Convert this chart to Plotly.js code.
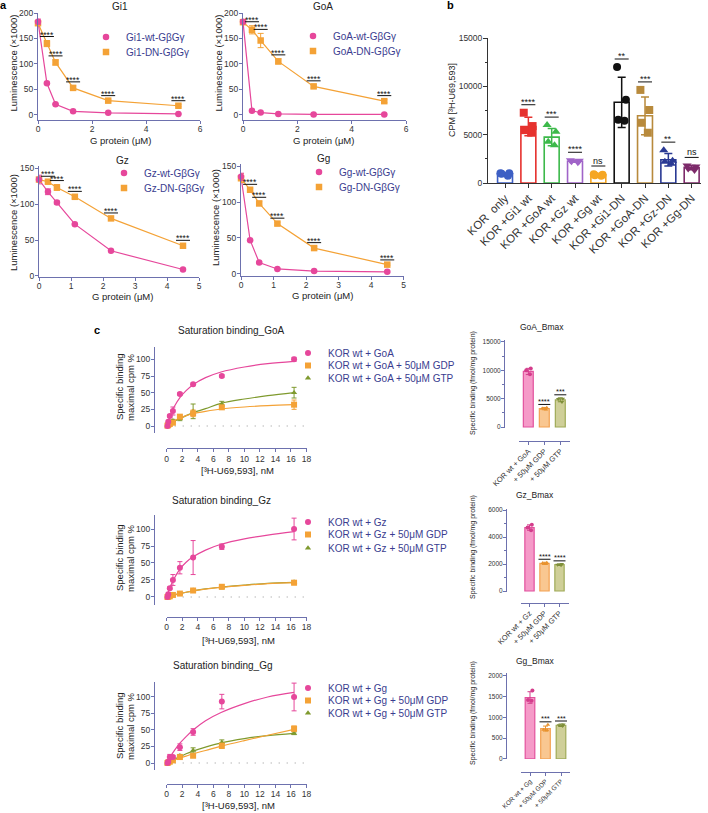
<!DOCTYPE html>
<html><head><meta charset="utf-8">
<script src="https://cdn.plot.ly/plotly-3.0.1.min.js"></script>
<style>html,body{margin:0;padding:0;background:#fff}#chart{width:708px;height:813px}</style>
</head><body><div id="chart"></div>
<script>
// ================= DATA =================
// ---- Panel a: luminescence vs G protein ----
const aXGiGo = [0, 0.33, 0.65, 1.3, 2.6, 5.2];
const aXGzGg = [0, 0.28, 0.56, 1.12, 2.25, 4.5];
const gi1Wt = [183, 62, 21, 7, 4, 2];
const gi1WtErr = [5, 2, 1, 1, 1, 1];
const gi1Dn = [180, 140, 103, 53, 28, 18];
const gi1DnErr = [4, 6, 5, 4, 2, 2];
const goaWt = [183, 8, 4.5, 2, 1, 1];
const goaWtErr = [4, 1, 1, 1, 1, 1];
const goaDn = [182, 167, 146, 105, 56, 27];
const goaDnErr = [4, 8, 14, 5, 3, 3];
const gzWt = [134, 117, 102, 72, 35, 9];
const gzWtErr = [6, 4, 2, 1, 1, 1];
const gzDn = [134, 131, 123, 110, 80, 42];
const gzDnErr = [3, 2, 4, 2, 2, 2];
const ggWt = [135, 47, 16, 7, 4, 3];
const ggWtErr = [5, 1, 1, 1, 1, 1];
const ggDn = [133, 117, 98, 70, 36, 13];
const ggDnErr = [6, 2, 3, 2, 2, 1];
const aSig = ['', '****', '****', '****', '****', '****'];

// ---- Panel b: CPM bars ----
const bCats = ['KOR  only', 'KOR +Gi1 wt', 'KOR +GoA wt', 'KOR +Gz wt', 'KOR +Gg wt',
               'KOR +Gi1-DN', 'KOR +GoA-DN', 'KOR +Gz-DN', 'KOR +Gg-DN'];
const bMeans = [950, 5850, 4750, 2250, 850, 8350, 6950, 2400, 1600];
const bSD = [120, 950, 900, 100, 80, 2600, 1950, 650, 220];
const bPoints = [
  [750, 1000, 1000, 950],
  [7270, 5890, 5470, 5200],
  [5990, 5300, 4260, 3910],
  [2350, 2250, 2150, 2300],
  [850, 800, 900, 750],
  [12000, 8600, 6440, 6550],
  [9630, 7550, 6230, 5200],
  [3400, 2300, 2200, 2000],
  [1800, 1700, 1500, 1350]
];
const bSig = ['', '****', '***', '****', 'ns', '**', '***', '**', 'ns'];

// ---- Panel c: saturation binding ----
const satX = [0.1, 0.2, 0.4, 0.8, 1.7, 3.4, 7.1, 16.4];
const fitX = [0, 0.5, 1, 1.7, 2.5, 3.4, 5, 7, 10, 13, 16.4];
const goaSatWt = [0, 6.5, 15, 22.5, 48, 62.5, 75, 100];
const goaSatWtErr = [1, 2, 2, 6, 2, 2, 2, 3];
const goaSatGdp = [0.5, 1.5, 3, 5, 14, 19, 28, 32];
const goaSatGdpErr = [0.5, 1, 1, 1, 2, 5, 2, 7];
const goaSatGtp = [0.3, 1, 3, 8, 11, 22, 33, 50];
const goaSatGtpErr = [0.5, 1, 1, 2, 3, 11, 4, 8];
const goaFitWt = [0, 17, 29.5, 42.5, 53, 62, 72.5, 81, 88.5, 93.5, 97];
const goaFitGdp = [0, 4, 8, 12, 15.5, 18.5, 22, 25.5, 28.5, 30.5, 32];
const goaFitGtp = [0, 3.5, 7, 11, 15.5, 20, 26, 34, 40.5, 45.5, 50];

const gzSatWt = [0, 4, 13, 25, 43, 58, 74, 100];
const gzSatWtErr = [1, 2, 2, 8, 9, 25, 4, 16];
const gzSatGdp = [0, 0.5, 1, 3, 5, 9.5, 15, 21];
const gzSatGdpErr = [0.5, 0.5, 0.5, 1, 1, 2, 3, 3];
const gzSatGtp = [0, 0.5, 1, 3, 5, 10, 14, 22];
const gzSatGtpErr = [0.5, 0.5, 0.5, 1, 1, 1, 2, 2];
const gzFitWt = [0, 16, 28, 41, 51, 59, 69, 77.5, 85.5, 91, 96];
const gzFitGdp = [0, 1.5, 3, 5, 7, 9, 11.5, 14, 17, 19.5, 21];
const gzFitGtp = [0, 1.5, 3, 5, 7, 9, 12, 14.5, 17.5, 20, 21.5];

const ggSatWt = [0, 2, 9, 9, 24, 47, 93, 100];
const ggSatWtErr = [1, 2, 4, 2, 5, 5, 11, 21];
const ggSatGdp = [0, 1, 2, 4, 9, 11, 26, 52];
const ggSatGdpErr = [0.5, 0.5, 1, 1, 3, 2, 4, 4];
const ggSatGtp = [0, 1, 3, 5, 11, 19, 31, 45];
const ggSatGtpErr = [0.5, 0.5, 1, 1, 2, 4, 4, 2];
const ggFitWt = [0, 10, 19, 30, 40, 50, 64, 76.5, 90, 100, 107];
const ggFitGdp = [0, 2.3, 4.5, 7.5, 10.5, 14, 19, 25.5, 34, 42, 51];
const ggFitGtp = [0, 3, 6, 9.5, 14, 18, 24, 30.5, 37, 41.5, 45];

// ---- Panel c: Bmax bars ----
const goaBmaxCats = ['KOR wt + GoA', '+ 50μM GDP', '+ 50μM GTP'];
const goaBmax = [9800, 3250, 4800];
const goaBmaxSD = [550, 200, 350];
const goaBmaxPts = [[10300, 9300, 10000], [3400, 3100, 3250], [5000, 4400, 4950]];
const goaBmaxSig = ['', '****', '***'];
const gzBmaxCats = ['KOR wt + Gz', '+ 50μM GDP', '+ 50μM GTP'];
const gzBmax = [4700, 2050, 1950];
const gzBmaxSD = [200, 80, 60];
const gzBmaxPts = [[4900, 4500, 4700], [2100, 2000, 2050], [2000, 1900, 1950]];
const gzBmaxSig = ['', '****', '****'];
const ggBmaxCats = ['KOR wt + Gg', '+ 50μM GDP', '+ 50μM GTP'];
const ggBmax = [1480, 730, 810];
const ggBmaxSD = [140, 60, 30];
const ggBmaxPts = [[1650, 1400, 1420], [820, 700, 690], [830, 790, 810]];
const ggBmaxSig = ['', '***', '***'];

// ================= STYLE / LAYOUT =================
const W = 708, H = 813;
const PX = v => v / W;
const PY = v => 1 - v / H;
const FONT = 'Arial, "Liberation Sans", Helvetica, sans-serif';
const PINK = '#e6479b', ORANGE = '#f4a236', OLIVE = '#7f9a2e';
const AXBLUE = '#6d71ae', LEGTXT = '#3a3d8f';

const traces = [], annotations = [], shapes = [];
const layout = {
  width: W, height: H, margin: {l: 0, r: 0, t: 0, b: 0},
  paper_bgcolor: '#fff', plot_bgcolor: 'rgba(0,0,0,0)',
  font: {family: FONT, size: 10, color: '#333'},
  showlegend: true, barmode: 'overlay', boxmode: 'overlay',
  annotations, shapes
};
const ak = (l, n) => n === 1 ? l + 'axis' : l + 'axis' + n;
const ar = (l, n) => n === 1 ? l : l + n;

function addText(text, x, y, o) {
  annotations.push(Object.assign({
    text, x: PX(x), y: PY(y), xref: 'paper', yref: 'paper', showarrow: false,
    xanchor: 'center', yanchor: 'middle', font: {family: FONT, size: 10, color: '#222'}
  }, o || {}));
}
function addSig(text, xr, yr, xv, yv, size, yshift, lineShift, halfW) {
  annotations.push({text, xref: xr, yref: yr, x: xv, y: yv, yshift, showarrow: false,
    xanchor: 'center', yanchor: 'middle', font: {family: FONT, size, color: '#111'}});
  shapes.push({type: 'line', xref: xr, yref: yr, xsizemode: 'pixel', xanchor: xv, x0: -halfW, x1: halfW,
    ysizemode: 'pixel', yanchor: yv, y0: lineShift, y1: lineShift, line: {color: '#111', width: 1}});
}
let legCount = 0;
// one legend per entry, placed by the pixel centre of its symbol
function newLegend(symX, yc, size) {
  legCount++;
  const id = legCount === 1 ? 'legend' : 'legend' + legCount;
  layout[id] = {x: PX(symX - 20), y: PY(yc), xanchor: 'left', yanchor: 'middle',
    bgcolor: 'rgba(0,0,0,0)', borderwidth: 0, itemwidth: 30,
    font: {family: FONT, size, color: LEGTXT}};
  return id;
}
function axisBase(color, fsize) {
  return {showline: true, linecolor: color, linewidth: 1, ticks: 'outside', ticklen: 3,
    tickcolor: color, tickwidth: 1, showgrid: false, zeroline: false, ticklabelstandoff: -1,
    exponentformat: 'none', separatethousands: false,
    tickfont: {family: FONT, size: fsize, color: '#333'}};
}

// ---------- Panel a ----------
const aConf = [
  {n: 1, name: 'Gi1', x: aXGiGo, wt: gi1Wt, wtE: gi1WtErr, dn: gi1Dn, dnE: gi1DnErr,
   xd: [38, 200], yd: [120, 13], xr: [0, 6], yr: [-10, 200], xdt: 2,
   tt: [120, 6], yt: [12.5, 63], xt: [120, 140], lg: [106, 37, 52]},
  {n: 2, name: 'GoA', x: aXGiGo, wt: goaWt, wtE: goaWtErr, dn: goaDn, dnE: goaDnErr,
   xd: [243, 406], yd: [120, 13], xr: [0, 6], yr: [-10, 200], xdt: 2,
   tt: [323, 6], yt: [217.5, 63], xt: [323, 140], lg: [313, 36, 51]},
  {n: 3, name: 'Gz', x: aXGzGg, wt: gzWt, wtE: gzWtErr, dn: gzDn, dnE: gzDnErr,
   xd: [39, 199], yd: [277, 166], xr: [0, 5], yr: [-1.4, 152.8], xdt: 1,
   tt: [122, 160], yt: [13, 223], xt: [122, 296.5], lg: [124, 173, 188]},
  {n: 4, name: 'Gg', x: aXGzGg, wt: ggWt, wtE: ggWtErr, dn: ggDn, dnE: ggDnErr,
   xd: [241, 403.5], yd: [276, 164], xr: [0, 5], yr: [-2.8, 152.8], xdt: 1,
   tt: [323, 158], yt: [216, 218], xt: [322, 296], lg: [319, 172, 187]}
];
aConf.forEach(c => {
  const xa = ar('x', c.n), ya = ar('y', c.n);
  layout[ak('x', c.n)] = Object.assign(axisBase(AXBLUE, 8.5), {
    domain: [PX(c.xd[0]), PX(c.xd[1])], range: c.xr, dtick: c.xdt, tick0: 0, anchor: ya,
    ticklabelstandoff: -2});
  layout[ak('y', c.n)] = Object.assign(axisBase(AXBLUE, 8.5), {
    domain: [PY(c.yd[0]), PY(c.yd[1])], range: c.yr, dtick: 50, tick0: 0, anchor: xa});
  traces.push({x: c.x, y: c.dn, xaxis: xa, yaxis: ya, mode: 'lines', showlegend: false,
    line: {color: ORANGE, width: 1.2}, hoverinfo: 'skip'});
  traces.push({x: c.x, y: c.wt, xaxis: xa, yaxis: ya, mode: 'lines', showlegend: false,
    line: {color: PINK, width: 1.2}, hoverinfo: 'skip'});
  traces.push({x: c.x, y: c.dn, xaxis: xa, yaxis: ya, mode: 'markers', cliponaxis: false,
    name: c.name + '-DN-GβGγ', legend: newLegend(c.lg[0], c.lg[2], 10),
    marker: {symbol: 'square', size: 6.5, color: ORANGE},
    error_y: {type: 'data', array: c.dnE, color: ORANGE, thickness: 1, width: 3}});
  traces.push({x: c.x, y: c.wt, xaxis: xa, yaxis: ya, mode: 'markers', cliponaxis: false,
    name: c.name + '-wt-GβGγ', legend: newLegend(c.lg[0], c.lg[1], 10),
    marker: {symbol: 'circle', size: 6.5, color: PINK},
    error_y: {type: 'data', array: c.wtE, color: PINK, thickness: 1, width: 3}});
  c.x.forEach((xv, i) => {
    if (aSig[i]) addSig(aSig[i], xa, ya, xv, c.dn[i] + c.dnE[i], 8.5, 6, 4, 7);
  });
  addText(c.name, c.tt[0], c.tt[1], {font: {family: FONT, size: 10, color: '#222'}});
  addText('Luminescence (×1000)', c.yt[0], c.yt[1], {textangle: -90, font: {family: FONT, size: 9.5, color: '#222'}});
  addText('G protein (μM)', c.xt[0], c.xt[1], {font: {family: FONT, size: 9.5, color: '#222'}});
});
addText('<b>a</b>', 3, 5, {font: {family: FONT, size: 11, color: '#000'}});

// ---------- Panel b ----------
const bColors = ['#3d5fc4', '#e6322e', '#3cb94a', '#a064c8', '#f5a623', '#111111', '#b88a3c', '#2a3a94', '#7d2a6a'];
const bSymbols = ['circle', 'square', 'triangle-up', 'triangle-down', 'circle', 'circle', 'square', 'triangle-up', 'triangle-down'];
layout.xaxis5 = Object.assign(axisBase('#333', 11.5), {
  domain: [PX(488), PX(701)], anchor: 'y5', type: 'category', range: [-0.73, 8.4],
  categoryorder: 'array', categoryarray: bCats, tickangle: -45, ticklen: 4});
layout.yaxis5 = Object.assign(axisBase('#333', 8.5), {
  domain: [PY(183), PY(38)], anchor: 'x5', range: [0, 15000], tickvals: [0, 5000, 10000, 15000],
  tickformat: 'd', ticklen: 4,
  minor: {tickvals: [2500, 7500, 12500], ticklen: 2.5, ticks: 'outside', tickcolor: '#333'}});
bCats.forEach((cat, i) => {
  traces.push({type: 'bar', x: [cat], y: [bMeans[i]], xaxis: 'x5', yaxis: 'y5', width: 0.64, showlegend: false,
    marker: {color: '#ffffff', line: {color: bColors[i], width: 1.6}},
    error_y: {type: 'data', array: [bSD[i]], color: bColors[i], thickness: 1.5, width: 4}});
  traces.push({type: 'box', x: bPoints[i].map(() => cat), y: bPoints[i], xaxis: 'x5', yaxis: 'y5',
    boxpoints: 'all', jitter: 0.85, pointpos: 0, width: 0.55, showlegend: false,
    fillcolor: 'rgba(0,0,0,0)', line: {width: 0, color: 'rgba(0,0,0,0)'}, whiskerwidth: 0,
    marker: {symbol: bSymbols[i], size: 8, color: bColors[i]}, hoveron: 'points'});
  if (bSig[i]) {
    const top = Math.max(Math.max.apply(null, bPoints[i]), bMeans[i] + bSD[i]);
    addSig(bSig[i], 'x5', 'y5', i, top, 9, bSig[i] === 'ns' ? 13 : 11, 8, 7);
  }
});
addText('CPM [³H-U69,593]', 452, 100, {textangle: -90, font: {family: FONT, size: 9, color: '#222'}});
addText('<b>b</b>', 450, 5, {font: {family: FONT, size: 11, color: '#000'}});

// ---------- Panel c: saturation ----------
const satConf = [
  {n: 6, name: 'GoA', wt: goaSatWt, wtE: goaSatWtErr, gdp: goaSatGdp, gdpE: goaSatGdpErr, gtp: goaSatGtp, gtpE: goaSatGtpErr,
   fw: goaFitWt, fd: goaFitGdp, ft: goaFitGtp,
   title: [232, 330], yt: 387, xt: [237, 470], xline: 448.3, yd: [433, 347], yr: [-10.5, 118.5], lg: [353, 365.5, 378]},
  {n: 7, name: 'Gz', wt: gzSatWt, wtE: gzSatWtErr, gdp: gzSatGdp, gdpE: gzSatGdpErr, gtp: gzSatGtp, gtpE: gzSatGtpErr,
   fw: gzFitWt, fd: gzFitGdp, ft: gzFitGtp,
   title: [221, 500], yt: 558, xt: [238, 640], xline: 617, yd: [605, 515], yr: [-11.8, 120.6], lg: [522, 534.5, 548]},
  {n: 8, name: 'Gg', wt: ggSatWt, wtE: ggSatWtErr, gdp: ggSatGdp, gdpE: ggSatGdpErr, gtp: ggSatGtp, gtpE: ggSatGtpErr,
   fw: ggFitWt, fd: ggFitGdp, ft: ggFitGtp,
   title: [223, 665], yt: 726, xt: [238, 805], xline: 784, yd: [770, 682], yr: [-10.6, 122.7], lg: [688, 700.5, 713]}
];
satConf.forEach(c => {
  const xa = ar('x', c.n), ya = ar('y', c.n);
  layout[ak('x', c.n)] = Object.assign(axisBase(AXBLUE, 8.5), {
    domain: [PX(166.7), PX(306.5)], range: [0, 18], dtick: 2, tick0: 0,
    anchor: 'free', position: PY(c.xline)});
  layout[ak('y', c.n)] = Object.assign(axisBase(AXBLUE, 8.5), {
    domain: [PY(c.yd[0]), PY(c.yd[1])], range: c.yr, tickvals: [0, 25, 50, 75, 100],
    anchor: 'free', position: PX(154)});
  shapes.push({type: 'line', xref: xa, yref: ya, x0: 0, x1: 18, y0: 0, y1: 0, layer: 'below',
    line: {color: '#b8b8b8', width: 1.3, dash: '1px,7px'}});
  const series = [
    {y: c.gtp, e: c.gtpE, f: c.ft, color: OLIVE, sym: 'triangle-up', name: 'KOR wt + ' + c.name + ' + 50μM GTP', ly: c.lg[2]},
    {y: c.gdp, e: c.gdpE, f: c.fd, color: ORANGE, sym: 'square', name: 'KOR wt + ' + c.name + ' + 50μM GDP', ly: c.lg[1]},
    {y: c.wt, e: c.wtE, f: c.fw, color: PINK, sym: 'circle', name: 'KOR wt + ' + c.name, ly: c.lg[0]}
  ];
  series.forEach(s => {
    traces.push({x: fitX, y: s.f, xaxis: xa, yaxis: ya, mode: 'lines', showlegend: false, hoverinfo: 'skip',
      line: {color: s.color, width: 1.2, shape: 'spline', smoothing: 1}});
  });
  series.forEach(s => {
    traces.push({x: satX, y: s.y, xaxis: xa, yaxis: ya, mode: 'markers', cliponaxis: false,
      name: s.name, legend: newLegend(308, s.ly, 10),
      marker: {symbol: s.sym, size: s.sym === 'triangle-up' ? 5.5 : 6, color: s.color},
      error_y: {type: 'data', array: s.e, color: s.color, thickness: 1, width: 2.5}});
  });
  addText('Saturation binding_' + c.name, c.title[0], c.title[1]);
  addText('Specific binding', 119, c.yt, {textangle: -90, font: {family: FONT, size: 9.5, color: '#222'}});
  addText('maximal cpm %', 130, c.yt, {textangle: -90, font: {family: FONT, size: 9.5, color: '#222'}});
  addText('[³H-U69,593], nM', c.xt[0], c.xt[1], {font: {family: FONT, size: 9.5, color: '#222'}});
});
addText('<b>c</b>', 97, 330, {font: {family: FONT, size: 11, color: '#000'}});

// ---------- Panel c: Bmax ----------
const bmFill = ['#f59ac8', '#f9c791', '#cfcf98'];
const bmLine = ['#e2519d', '#f3a253', '#9faa57'];
const bmPt = ['#d43d8c', '#e8922e', '#7f8f3a'];
const bmSym = ['circle', 'triangle-up', 'triangle-down'];
const bmConf = [
  {n: 9, name: 'GoA_Bmax', cats: goaBmaxCats, m: goaBmax, sd: goaBmaxSD, pts: goaBmaxPts, sig: goaBmaxSig,
   xd: [518.7, 569.9], xline: 441, yd: [428, 340], yr: [-176, 15350], yt: [0, 5000, 10000, 15000],
   minor: [2500, 7500, 12500], ypos: 504, title: [542, 327], ytl: [473, 383], xf: 7.5},
  {n: 10, name: 'Gz_Bmax', cats: gzBmaxCats, m: gzBmax, sd: gzBmaxSD, pts: gzBmaxPts, sig: gzBmaxSig,
   xd: [520.5, 568.5], xline: 603, yd: [592, 509], yr: [-74, 6074], yt: [0, 2000, 4000, 6000],
   minor: [1000, 3000, 5000], ypos: 506, title: [535, 495], ytl: [473, 547], xf: 7.5},
  {n: 11, name: 'Gg_Bmax', cats: ggBmaxCats, m: ggBmax, sd: ggBmaxSD, pts: ggBmaxPts, sig: ggBmaxSig,
   xd: [520.7, 570.3], xline: 772, yd: [759, 673], yr: [-5, 2072], yt: [0, 500, 1000, 1500, 2000],
   minor: [], ypos: 506, title: [535, 661], ytl: [473, 713], xf: 6.5}
];
bmConf.forEach(c => {
  const xa = ar('x', c.n), ya = ar('y', c.n);
  layout[ak('x', c.n)] = Object.assign(axisBase(AXBLUE, c.xf), {
    domain: [PX(c.xd[0]), PX(c.xd[1])], type: 'category', range: [-0.6, 2.6],
    categoryorder: 'array', categoryarray: c.cats, tickangle: -45,
    anchor: 'free', position: PY(c.xline)});
  layout[ak('y', c.n)] = Object.assign(axisBase(AXBLUE, 6.5), {
    domain: [PY(c.yd[0]), PY(c.yd[1])], range: c.yr, tickvals: c.yt, tickformat: 'd',
    minor: {tickvals: c.minor, ticklen: 2, ticks: 'outside', tickcolor: AXBLUE},
    anchor: 'free', position: PX(c.ypos)});
  c.cats.forEach((cat, i) => {
    traces.push({type: 'bar', x: [cat], y: [c.m[i]], xaxis: xa, yaxis: ya, width: 0.62, showlegend: false,
      marker: {color: bmFill[i], line: {color: bmLine[i], width: 1.2}},
      error_y: {type: 'data', array: [c.sd[i]], color: bmPt[i], thickness: 1, width: 2.5}});
    traces.push({type: 'box', x: c.pts[i].map(() => cat), y: c.pts[i], xaxis: xa, yaxis: ya,
      boxpoints: 'all', jitter: 0.8, pointpos: 0, width: 0.5, showlegend: false,
      fillcolor: 'rgba(0,0,0,0)', line: {width: 0, color: 'rgba(0,0,0,0)'}, whiskerwidth: 0,
      marker: {symbol: bmSym[i], size: 4, color: bmPt[i]}, hoveron: 'points'});
    if (c.sig[i]) {
      const top = Math.max(Math.max.apply(null, c.pts[i]), c.m[i] + c.sd[i]);
      addSig(c.sig[i], xa, ya, i, top, 7.5, 6, 3, 6);
    }
  });
  addText(c.name, c.title[0], c.title[1], {font: {family: FONT, size: 8.5, color: '#222'}});
  addText('Specific binding (fmol/mg protein)', c.ytl[0], c.ytl[1], {textangle: -90, font: {family: FONT, size: 7, color: '#222'}});
});

Plotly.newPlot('chart', traces, layout, {displayModeBar: false, responsive: false});
</script>
</body></html>
